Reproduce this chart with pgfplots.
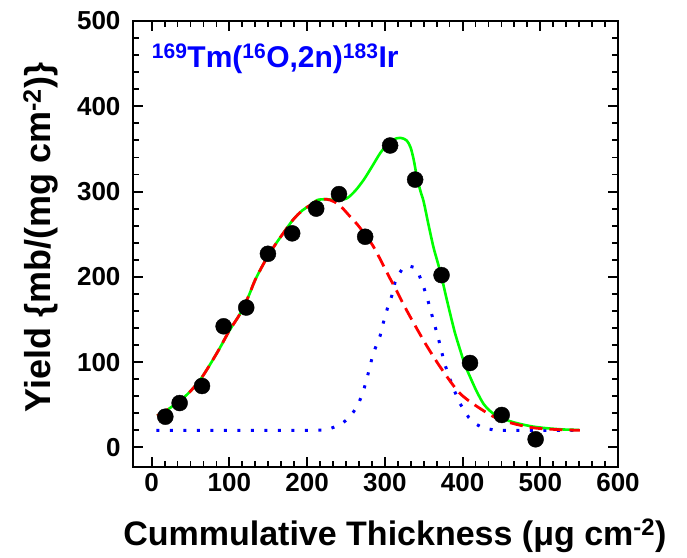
\documentclass[border=0pt]{standalone}
\usepackage{fontspec}
\setmainfont{Liberation Sans}
\usepackage{pgfplots}
\pgfplotsset{compat=1.18}
\definecolor{fitgreen}{RGB}{0,255,0}
\definecolor{fitred}{RGB}{255,0,0}
\definecolor{fitblue}{RGB}{0,0,255}

\begin{document}
\begin{tikzpicture}
\begin{axis}[
    scale only axis, width=485pt, height=446pt,
    xmin=-24, xmax=600, ymin=-23, ymax=500,
    xtick={0,100,...,600}, ytick={0,100,...,500},
    minor x tick num=5, minor y tick num=4,
    tick align=inside, tick pos=both,
    major tick length=10pt, minor tick length=6pt,
    axis line style={line width=2.5pt},
    major tick style={line width=2pt, black},
    minor tick style={line width=1.8pt, black},
    /pgf/number format/assume math mode=true,
    tick label style={font=\bfseries\fontsize{26}{26}\selectfont},
    xticklabel style={yshift=-3pt},
    yticklabel style={xshift=-9pt},
    xlabel={Cummulative Thickness (μg cm\textsuperscript{-2})},
    ylabel={Yield \{mb/(mg cm\textsuperscript{-2})\}},
    xlabel style={font=\bfseries\fontsize{34}{34}\selectfont, at={(axis description cs:0.54,-0.1749)}, anchor=base},
    ylabel style={font=\bfseries\fontsize{36}{36}\selectfont, at={(axis description cs:-0.1711,0.515)}, anchor=base},
]
\coordinate (bl) at (rel axis cs:0,0);
\coordinate (tr) at (rel axis cs:1,1);

% measured yields
\addplot[only marks, mark=*, mark size=8pt, black] coordinates {
    (17.6,36)(36,52)(64.8,72)(92.6,142)(121.7,164)(149.6,227)(180.8,251)(211.7,280)
    (241,297)(274.7,247)(306.8,354)(339,314)(373,202)(409.6,99)(450.4,38)(494,9.5)};

% narrow component
\addplot[color=fitblue, line width=3pt, dash pattern=on 3pt off 10.5pt] coordinates {
    (6,20)(50,20)(100,20)(150,20)(200,20)(225,20.5)(234,23.5)(245,28)(253,34)(260,42)
    (266,51)(272.5,66)(279,88)(285,110)(294,131)(298,146)(303,162)(309,178)(313,193)
    (318,203)(323,210)(330,213)(338,211)(343,205)(346.7,196)(353,180)(358,164)(363,147)
    (368,131)(372.4,115)(376.6,99)(382.6,83)(389,67.5)(397,51)(408,35)(416,28)(424.7,23.5)
    (442,20)(480,20)(550,20)};

% total fit
\addplot[color=fitgreen, line width=2.6pt, smooth] coordinates {
    (7,37)(20,44)(37,55)(50,66)(63,80)(75,97)(88,117)(100,137)(114,157)(125,178)(133,196)
    (145,217)(157,235)(170,252)(182,267)(194,278)(204,284)(213,290)(225,291)(238,290)
    (251,292)(262,301)(273,314)(284,330)(294,345)(303,355)(311,361)(320,363)(328,360)
    (333,352)(337,338)(341.5,316)(346,300)(350,288)(356,262)(362.5,235)(368,217)(373,200)
    (378,180)(384,157)(390,135)(397,114)(403,97)(410,82)(418,66)(427,51)(435,43)(444,37)
    (460,31)(474,27.5)(490,24.5)(508,22.5)(530,21)(550,20.5)};

% broad component
\addplot[color=fitred, line width=2.8pt, dash pattern=on 13pt off 7pt, smooth] coordinates {
    (7,37)(20,44)(37,55)(50,66)(63,80)(75,97)(88,117)(100,137)(114,157)(125,178)(133,196)
    (145,217)(157,235)(170,252)(182,267)(194,278)(204,284)(215,290)(225,291)(235,288)
    (245,281)(255,271)(265,261)(275,249)(285,236)(295,219)(305,201)(315,184)(325,166)
    (337,146)(354,119)(373,92)(397,63)(427,43)(450,32)(487,23.5)(520,21)(551,20)};

\node[anchor=base west, text=fitblue, inner sep=0pt, font=\bfseries\fontsize{30}{30}\selectfont]
    at (axis description cs:0.0386,0.895)
    {\textsuperscript{169}Tm(\textsuperscript{16}O,2n)\textsuperscript{183}Ir};
\end{axis}
\path ([shift={(-133pt,-90pt)}]bl) rectangle ([shift={(69pt,21pt)}]tr);
\end{tikzpicture}
\end{document}
